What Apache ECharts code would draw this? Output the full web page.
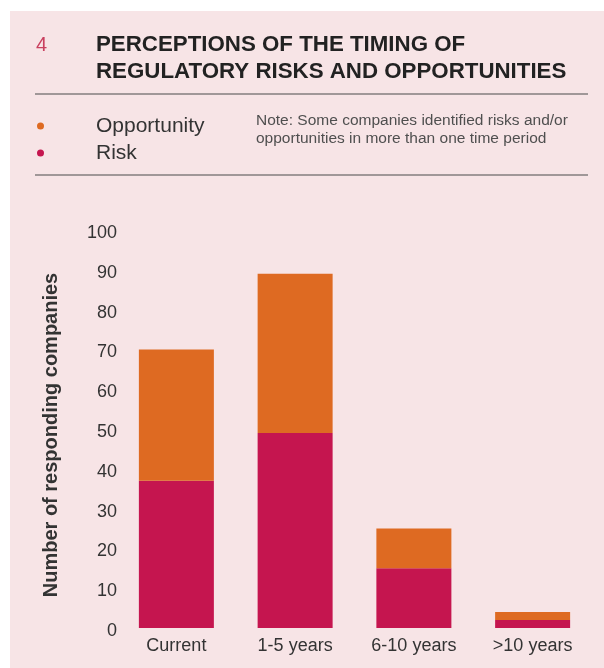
<!DOCTYPE html>
<html>
<head>
    <meta charset="utf-8" />
    <title>Timing of regulatory risks and opportunities</title>
    <script src="https://cdn.jsdelivr.net/npm/echarts@6/dist/echarts.min.js"></script>
    <style>
        body { margin: 0; background: #fff; }
    </style>
</head>
<body>
<div id="main" style="width: 604px;height:668px;"></div>
<script type="text/javascript">
    // data
    var categories = ['Current', '1-5 years', '6-10 years', '>10 years'];
    var riskValues = [37, 49, 15, 2];
    var opportunityValues = [33, 40, 10, 2];
    var yTicks = [0, 100, 10]; // min, max, step

    var font = '"Liberation Sans", Arial, sans-serif';
    var pink = '#c5154f';
    var orange = '#de6a22';

    var myChart = echarts.init(document.getElementById('main'));

    var option = {
        backgroundColor: '#fff',
        textStyle: { fontFamily: font },
        graphic: [
            // pink panel, white strip on the top and left
            { type: 'rect', z: -10, shape: { x: 10, y: 11, width: 594, height: 657 }, style: { fill: '#f7e4e6' } },
            { type: 'text', left: 36, top: 35, style: { text: '4', font: '20px ' + font, fill: '#c9405f' } },
            { type: 'line', shape: { x1: 35, y1: 94, x2: 588, y2: 94 }, style: { stroke: '#4a4a4a', lineWidth: 1.2 } },
            { type: 'line', shape: { x1: 35, y1: 175, x2: 588, y2: 175 }, style: { stroke: '#4a4a4a', lineWidth: 1.2 } },
            {
                type: 'text', left: 256, top: 112,
                style: {
                    text: 'Note: Some companies identified risks and/or\nopportunities in more than one time period',
                    font: '15.5px ' + font, fill: '#4f4f4f', lineHeight: 18
                }
            }
        ],
        title: {
            text: 'PERCEPTIONS OF THE TIMING OF\nREGULATORY RISKS AND OPPORTUNITIES',
            left: 96, top: 31, padding: 0,
            textStyle: { fontSize: 22.3, fontWeight: 'bold', color: '#222', lineHeight: 27, fontFamily: font }
        },
        legend: {
            data: ['Opportunity', 'Risk'],
            orient: 'vertical',
            left: 37, top: 115, padding: 0,
            icon: 'circle', itemWidth: 7, itemHeight: 7, itemGap: 5,
            selectedMode: false,
            textStyle: { fontSize: 21, color: '#333', lineHeight: 22, padding: [0, 0, 0, 47], fontFamily: font }
        },
        grid: { left: 117, right: 12, top: 230, bottom: 40 },
        xAxis: {
            type: 'category',
            data: categories,
            axisLine: { show: false },
            axisTick: { show: false },
            axisLabel: { fontSize: 18, color: '#333', margin: 9, fontFamily: font }
        },
        yAxis: {
            type: 'value',
            min: yTicks[0], max: yTicks[1], interval: yTicks[2],
            name: 'Number of responding companies',
            nameLocation: 'middle',
            nameGap: 56,
            nameTextStyle: { fontSize: 20, fontWeight: 'bold', color: '#333', fontFamily: font, padding: [0, 12, 0, 0] },
            splitLine: { show: false },
            axisLine: { show: false },
            axisTick: { show: false },
            axisLabel: {
                margin: 0,
                formatter: '{v|{value}}',
                rich: { v: { fontSize: 18, color: '#333', padding: [6, 0, 0, 0], fontFamily: font } }
            }
        },
        series: [
            {
                name: 'Risk', type: 'bar', stack: 'total', barWidth: 75,
                itemStyle: { color: pink },
                data: riskValues
            },
            {
                name: 'Opportunity', type: 'bar', stack: 'total', barWidth: 75,
                itemStyle: { color: orange },
                data: opportunityValues
            }
        ]
    };
    myChart.setOption(option);
</script>
</body>
</html>
